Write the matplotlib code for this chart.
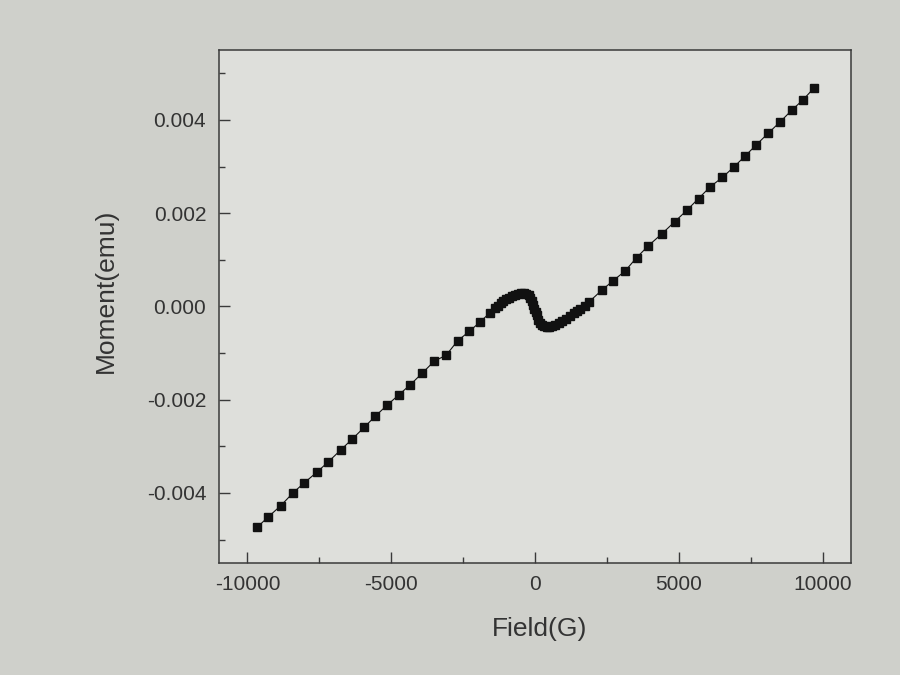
import numpy as np
import matplotlib
matplotlib.use("Agg")
import matplotlib.pyplot as plt
from matplotlib.ticker import MultipleLocator

# M(H) loop: field in G, moment in emu
FIELD_LEFT  = [-9658, -9293, -8839, -8405, -8019, -7585, -7186, -6755, -6366,
               -5936, -5560, -5137, -4737, -4331, -3926, -3500, -3094, -2692,
               -2287, -1906, -1559]
MOMENT_LEFT = [-0.004732, -0.004522, -0.004270, -0.003990, -0.003779, -0.003553,
               -0.003330, -0.003076, -0.002849, -0.002589, -0.002355, -0.002113,
               -0.001895, -0.001675, -0.001432, -0.001170, -0.001048, -0.000736,
               -0.000535, -0.000329, -0.000130]

FIELD_MID  = [-1400, -1300, -1200, -1100, -1000, -900, -800, -700, -600, -500,
              -400, -300, -220, -160, -110, -60, -20, 20, 60, 110, 170, 240,
              320, 410, 500, 600, 700, 820, 950, 1080, 1210, 1340, 1460, 1580,
              1720, 1880]
MOMENT_MID = [-0.00004, 0.00001, 0.00007, 0.00011, 0.00015, 0.00019, 0.00022,
              0.00025, 0.00027, 0.00028, 0.00029, 0.00027, 0.00024, 0.00019,
              0.00011, 0.00003, -0.00005, -0.00011, -0.00019, -0.00028,
              -0.00035, -0.00039, -0.00042, -0.00044, -0.00043, -0.00041,
              -0.00039, -0.00036, -0.00032, -0.00027, -0.00021, -0.00015,
              -0.00009, -0.00005, 0.00002, 0.00010]

FIELD_RIGHT  = [2316, 2719, 3125, 3531, 3934, 4399, 4861, 5273, 5684, 6099,
                6514, 6904, 7305, 7695, 8110, 8521, 8936, 9326, 9706]
MOMENT_RIGHT = [0.000345, 0.000555, 0.000756, 0.001046, 0.001298, 0.001552,
                0.001819, 0.002059, 0.002314, 0.002570, 0.002767, 0.002985,
                0.003226, 0.003467, 0.003716, 0.003957, 0.004214, 0.004435,
                0.004690]

XTICKS = [-10000, -5000, 0, 5000, 10000]
YTICKS = [-0.004, -0.002, 0.000, 0.002, 0.004]

FIG_BG = "#cfd0cb"
AX_BG  = "#dedfdb"
INK    = "#111111"
FRAME  = "#3a3a3a"

plt.rcParams["font.family"] = ["Liberation Sans", "DejaVu Sans"]

field  = np.array(FIELD_LEFT + FIELD_MID + FIELD_RIGHT, dtype=float)
moment = np.array(MOMENT_LEFT + MOMENT_MID + MOMENT_RIGHT, dtype=float)

fig = plt.figure(figsize=(9, 6.75), dpi=100)
fig.patch.set_facecolor(FIG_BG)
ax = fig.add_axes([0.243, 0.166, 0.703, 0.760])
ax.set_facecolor(AX_BG)

ax.plot(field, moment, color=INK, lw=0.8, marker="s", ms=5.5,
        mfc=INK, mec=INK)

ax.set_xlim(-11000, 11000)
ax.set_ylim(-0.0055, 0.0055)
ax.set_xticks(XTICKS)
ax.set_yticks(YTICKS)
ax.set_xticklabels([f"{v}" for v in XTICKS])
ax.set_yticklabels([f"{v:.3f}" for v in YTICKS])
ax.xaxis.set_minor_locator(MultipleLocator(2500))
ax.yaxis.set_minor_locator(MultipleLocator(0.001))

ax.tick_params(which="both", direction="in", top=False, right=False,
               colors=FRAME, labelcolor="#333333")
ax.tick_params(which="major", length=8, width=1.0, labelsize=15, pad=9)
ax.tick_params(which="minor", length=4, width=1.0)
for sp in ax.spines.values():
    sp.set_color(FRAME)
    sp.set_linewidth(1.1)

ax.set_xlabel("Field(G)", fontsize=19, color="#333333")
ax.set_ylabel("Moment(emu)", fontsize=19, color="#333333")
ax.xaxis.set_label_coords(0.507, -0.105)
ax.yaxis.set_label_coords(-0.16, 0.53)

fig.savefig("out.png", dpi=100, facecolor=FIG_BG)
plt.close(fig)
